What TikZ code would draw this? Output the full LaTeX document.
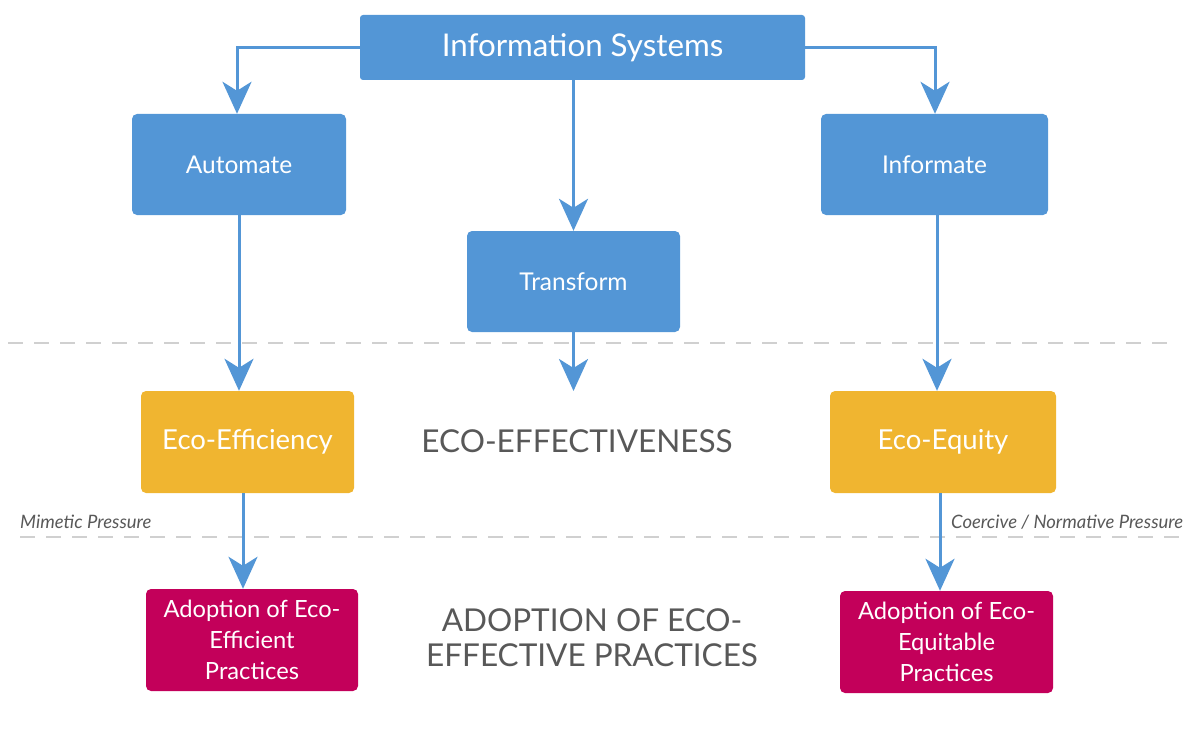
\documentclass[tikz,border=0pt]{standalone}
\usepackage{fontspec}
\setmainfont{Lato}
\usetikzlibrary{arrows.meta}
\definecolor{isblue}{RGB}{83,150,214}
\definecolor{ecoyellow}{RGB}{240,181,48}
\definecolor{adoptred}{RGB}{195,0,90}
\definecolor{labelgray}{RGB}{88,88,88}
\definecolor{dashgray}{RGB}{208,208,208}
\begin{document}
\begin{tikzpicture}[x=1pt,y=-1pt,
  box/.style={rounded corners=5pt,inner sep=0pt,text=white,align=center},
  bluebox/.style={box,fill=isblue},
  yellowbox/.style={box,fill=ecoyellow},
  redbox/.style={box,fill=adoptred},
  link/.style={draw=isblue,line width=3pt,-{Stealth[length=32pt,width=29pt,inset=9pt]}},
  divider/.style={draw=dashgray,line width=1.2pt,dash pattern=on 15pt off 11pt},
  pressure/.style={text=labelgray,font=\itshape\fontsize{18.5}{20}\selectfont,inner sep=0pt},
  heading/.style={text=labelgray,font=\fontsize{31.5}{35}\selectfont,align=center,inner sep=0pt}]
\useasboundingbox (0,0) rectangle (1185,733);

% guide lines
\draw[divider] (8,343) -- (1175,343);
\draw[divider] (20,537) -- (1180,537);

% information systems layer
\node[bluebox,minimum width=445pt,minimum height=65pt,rounded corners=3pt,font=\fontsize{31.3}{36}\selectfont] (is) at (582.5,47.5) {\raisebox{-2pt}{Information Systems}};
\node[bluebox,minimum width=214pt,minimum height=101pt,font=\fontsize{24.5}{28}\selectfont] (auto) at (239,164.5) {\raisebox{-2pt}{Automate}};
\node[bluebox,minimum width=213pt,minimum height=101pt,font=\fontsize{24.5}{28}\selectfont] (trans) at (573.5,281.5) {\raisebox{-2pt}{Transform}};
\node[bluebox,minimum width=227pt,minimum height=101pt,font=\fontsize{24.5}{28}\selectfont] (info) at (934.5,164.5) {\raisebox{-2pt}{Informate}};

% eco outcomes
\node[yellowbox,minimum width=213pt,minimum height=102pt,font=\fontsize{27.5}{32}\selectfont] (eff) at (247.5,442) {\raisebox{-2pt}{Eco-Efficiency}};
\node[yellowbox,minimum width=226pt,minimum height=102pt,font=\fontsize{27.5}{32}\selectfont] (equ) at (943,442) {\raisebox{-2pt}{Eco-Equity}};
\coordinate (mid) at (573.5,391);
\node[heading] (effect) at (577,441) {ECO-EFFECTIVENESS};

% adoption
\node[redbox,minimum width=212pt,minimum height=102pt,font=\fontsize{23.7}{31}\selectfont] (adeff) at (252,640) {Adoption of Eco-\\Efficient\\Practices};
\node[redbox,minimum width=213pt,minimum height=102pt,font=\fontsize{23.7}{31}\selectfont] (adequ) at (946.5,642) {Adoption of Eco-\\Equitable\\Practices};
\node[heading] (adopt) at (592,638) {ADOPTION OF ECO-\\EFFECTIVE PRACTICES};

% pressure labels
\node[pressure,anchor=west] (mim) at (20,522) {Mimetic Pressure};
\node[pressure,anchor=west] (coer) at (951,522) {Coercive / Normative Pressure};

% connectors
\draw[link] (is.west |- 0,48) -| (auto.north -| 237,0);
\draw[link] (is.east |- 0,48) -| (info.north -| 935,0);
\draw[link] (is.south -| trans.north) -- (trans.north);
\draw[link] (auto.south -| 239,0) -- (eff.north -| 239,0);
\draw[link] (trans.south) -- (mid);
\draw[link] (info.south -| 937,0) -- (equ.north -| 937,0);
\draw[link] (eff.south -| 243,0) -- (adeff.north -| 243,0);
\draw[link] (equ.south -| 940,0) -- (adequ.north -| 940,0);
\end{tikzpicture}
\end{document}
